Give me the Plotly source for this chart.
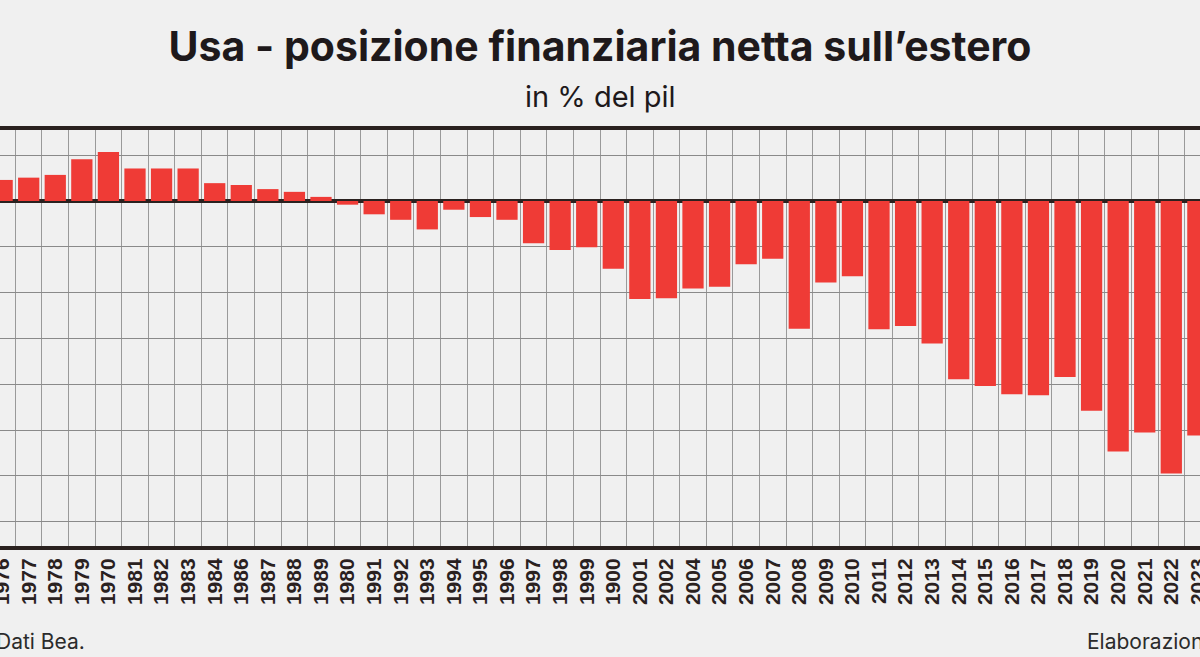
import plotly.graph_objects as go

# anni (etichette come da grafico originale) e posizione netta in % del pil
anni = ['1976', '1977', '1978', '1979', '1970', '1981', '1982', '1983', '1984', '1986',
        '1987', '1988', '1989', '1980', '1991', '1992', '1993', '1994', '1995', '1996',
        '1997', '1998', '1999', '1900', '2001', '2002', '2004', '2005', '2006', '2007',
        '2008', '2009', '2010', '2011', '2012', '2013', '2014', '2015', '2016', '2017',
        '2018', '2019', '2020', '2021', '2022', '2023']
posizione = [4.6, 5.1, 5.7, 9.1, 10.7, 7.1, 7.1, 7.1, 3.9, 3.5,
             2.6, 2.0, 0.9, -0.8, -2.9, -4.1, -6.2, -1.9, -3.5, -4.1,
             -9.2, -10.7, -10.1, -14.8, -21.4, -21.2, -19.1, -18.7, -13.8, -12.6,
             -27.9, -17.8, -16.4, -28.0, -27.3, -31.1, -38.9, -40.4, -42.2, -42.4,
             -38.4, -45.8, -54.7, -50.5, -59.5, -51.2]

bg = '#f0f0f0'
dark = '#2a211f'

def py(pix):
	# pixel verticale della pagina -> coordinata paper (area del grafico 130..546)
	return (546 - pix) / 416

fig = go.Figure()
fig.add_trace(go.Bar(x=anni, y=posizione, marker_color='#ef3b36', marker_line_width=0))

fig.update_layout(
	width=1200, height=657,
	paper_bgcolor=bg, plot_bgcolor=bg,
	margin=dict(l=0, r=0, t=130, b=111, autoexpand=False),
	bargap=0.2,
	showlegend=False,
	title=dict(text='<b>Usa - posizione finanziaria netta sull’estero</b>',
			   x=0.5, xanchor='center', y=1 - 47 / 657, yanchor='middle', yref='container',
			   font=dict(family='Inter', size=41, color='#1e191b')),
)
fig.add_annotation(text='in % del pil', x=0.5, y=py(97), xref='paper', yref='paper', yanchor='middle',
				   showarrow=False, font=dict(family='Inter', size=29, color='#1e191b'))
fig.add_annotation(text='Dati Bea.', x=-6 / 1200, xanchor='left', y=py(641), yref='paper', yanchor='middle',
				   xref='paper', showarrow=False, font=dict(family='Inter', size=21, color='#2b2b2b'))
fig.add_annotation(text='Elaborazione Withub', x=1085 / 1200, xanchor='left', y=py(641), yanchor='middle',
				   yref='paper', xref='paper', showarrow=False,
				   font=dict(family='Inter', size=21, color='#2b2b2b'))

fig.update_xaxes(
	type='category', range=[-0.08, 45.08], tickson='boundaries', automargin=False,
	showgrid=True, gridcolor='#9a9a9a', gridwidth=1,
	showline=True, mirror=True, linecolor=dark, linewidth=4,
	ticks='', tickangle=-90,
	tickfont=dict(family='Liberation Sans', size=21, color=dark, weight='bold'),
)
fig.update_yaxes(
	range=[-75.3, 15.5], dtick=10, showticklabels=False, automargin=False,
	showgrid=True, gridcolor='#8a8a8a', gridwidth=1,
	zeroline=True, zerolinecolor=dark, zerolinewidth=4,
	showline=False,
)

fig.write_html('out.html', config={'displayModeBar': False},
			   post_script="document.body.style.margin='0';")
